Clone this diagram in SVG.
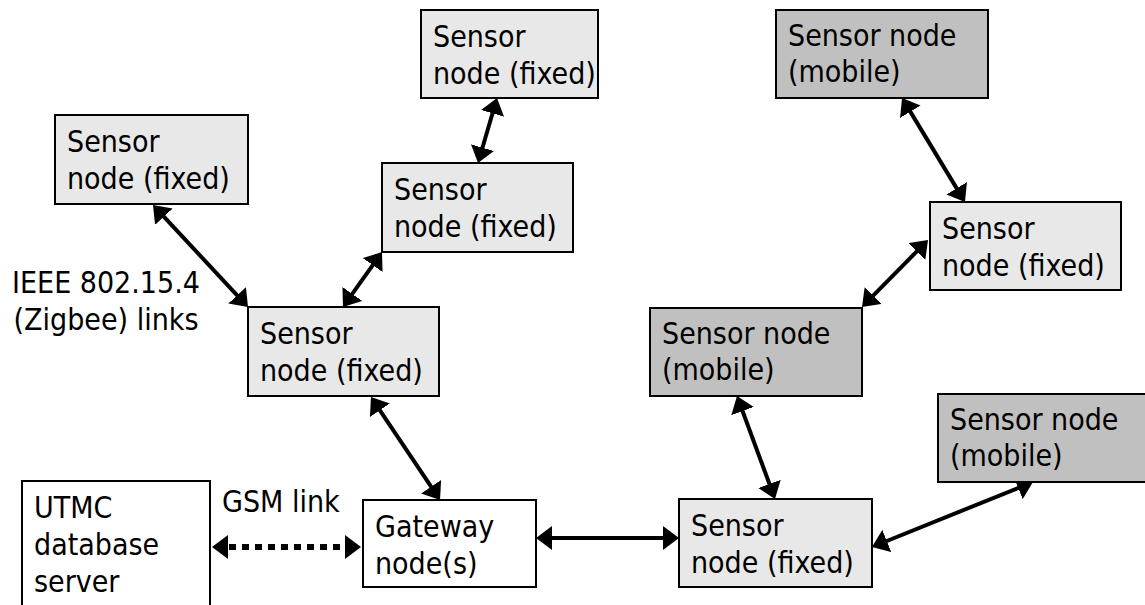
<svg xmlns="http://www.w3.org/2000/svg" width="1145" height="605" viewBox="0 0 1145 605">
  <style>
    .box { stroke: #000; stroke-width: 2; }
    .fixed { fill: #e8e8e8; }
    .mobile { fill: #c0c0c0; }
    .plain { fill: #ffffff; }
    text { font-family: "DejaVu Sans Condensed", "DejaVu Sans", sans-serif; font-stretch: condensed; font-size: 30px; fill: #000; }
    .link { stroke: #000; stroke-width: 4; fill: none; }
    .dotted { stroke: #000; stroke-width: 6; fill: none; stroke-dasharray: 7 6; }
  </style>
  <defs>
    <marker id="head" viewBox="0 0 16 24" refX="12" refY="12" markerWidth="16" markerHeight="24" markerUnits="userSpaceOnUse" orient="auto-start-reverse">
      <polygon points="0,0 16,12 0,24" fill="#000"/>
    </marker>
  </defs>

  <!-- links between nodes -->
  <g id="connectors">
    <line class="link" x1="155.7" y1="207.9" x2="245.3" y2="304.1" marker-start="url(#head)" marker-end="url(#head)"/>
    <line class="link" x1="379.7" y1="255.3" x2="345.3" y2="303.7" marker-start="url(#head)" marker-end="url(#head)"/>
    <line class="link" x1="495.9" y1="101.8" x2="479.1" y2="159.2" marker-start="url(#head)" marker-end="url(#head)"/>
    <line class="link" x1="373.2" y1="400.3" x2="437.8" y2="496.7" marker-start="url(#head)" marker-end="url(#head)"/>
    <line class="dotted" x1="216" y1="547" x2="357" y2="547" marker-start="url(#head)" marker-end="url(#head)"/>
    <line class="link" x1="540" y1="538" x2="675" y2="538" marker-start="url(#head)" marker-end="url(#head)"/>
    <line class="link" x1="738.4" y1="399.8" x2="773.6" y2="495.2" marker-start="url(#head)" marker-end="url(#head)"/>
    <line class="link" x1="1029.3" y1="483.5" x2="875.7" y2="545.5" marker-start="url(#head)" marker-end="url(#head)"/>
    <line class="link" x1="925.2" y1="242.9" x2="864.8" y2="304.1" marker-start="url(#head)" marker-end="url(#head)"/>
    <line class="link" x1="904.1" y1="101.4" x2="962.9" y2="198.6" marker-start="url(#head)" marker-end="url(#head)"/>
  </g>

  <g id="label-zigbee">
    <text x="106" y="293" text-anchor="middle">IEEE 802.15.4</text>
    <text x="106" y="330" text-anchor="middle">(Zigbee) links</text>
  </g>
  <g id="label-gsm">
    <text x="222" y="512">GSM link</text>
  </g>

  <g id="node-fixed-a">
    <rect class="box fixed" x="55" y="115" width="193" height="89"/>
    <text x="67" y="152">Sensor</text>
    <text x="67" y="189">node (fixed)</text>
  </g>
  <g id="node-fixed-b">
    <rect class="box fixed" x="421" y="10" width="177" height="88"/>
    <text x="433" y="47">Sensor</text>
    <text x="433" y="84">node (fixed)</text>
  </g>
  <g id="node-fixed-c">
    <rect class="box fixed" x="382" y="163" width="191" height="89"/>
    <text x="394" y="200">Sensor</text>
    <text x="394" y="237">node (fixed)</text>
  </g>
  <g id="node-fixed-d">
    <rect class="box fixed" x="248" y="307" width="191" height="89"/>
    <text x="260" y="344">Sensor</text>
    <text x="260" y="381">node (fixed)</text>
  </g>
  <g id="node-fixed-e">
    <rect class="box fixed" x="679" y="499" width="193" height="88"/>
    <text x="691" y="536">Sensor</text>
    <text x="691" y="573">node (fixed)</text>
  </g>
  <g id="node-fixed-h">
    <rect class="box fixed" x="930" y="202" width="191" height="88"/>
    <text x="942" y="239">Sensor</text>
    <text x="942" y="276">node (fixed)</text>
  </g>
  <g id="node-mobile-i">
    <rect class="box mobile" x="776" y="10" width="212" height="88"/>
    <text x="788" y="46">Sensor node</text>
    <text x="788" y="82">(mobile)</text>
  </g>
  <g id="node-mobile-f">
    <rect class="box mobile" x="650" y="308" width="212" height="88"/>
    <text x="662" y="344">Sensor node</text>
    <text x="662" y="380">(mobile)</text>
  </g>
  <g id="node-mobile-g">
    <rect class="box mobile" x="938" y="394" width="212" height="88"/>
    <text x="950" y="430">Sensor node</text>
    <text x="950" y="466">(mobile)</text>
  </g>
  <g id="node-gateway">
    <rect class="box plain" x="363" y="500" width="173" height="87"/>
    <text x="375" y="537">Gateway</text>
    <text x="375" y="574">node(s)</text>
  </g>
  <g id="node-utmc">
    <rect class="box plain" x="22" y="481" width="188" height="130"/>
    <text x="34" y="518">UTMC</text>
    <text x="34" y="555">database</text>
    <text x="34" y="592">server</text>
  </g>
</svg>
